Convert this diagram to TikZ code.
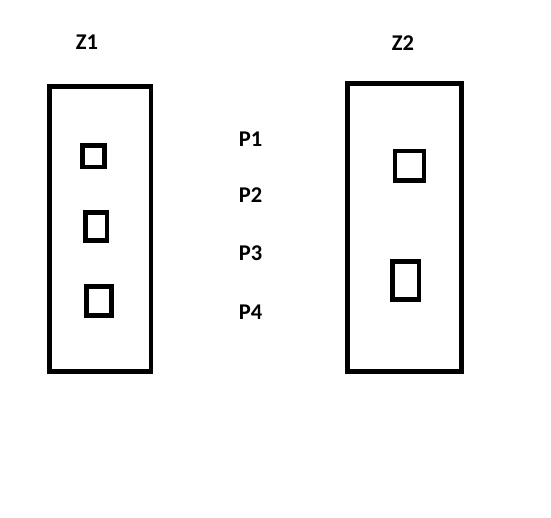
\documentclass[tikz,border=0pt]{standalone}
\usepackage{fontspec}
\setmainfont{Carlito}
\begin{document}
\begin{tikzpicture}[x=1pt,y=-1pt,
  zone/.style={draw=black,line width=4.8pt},
  pin/.style={draw=black,line width=4.4pt},
  lbl/.style={font=\fontsize{22.5}{26}\selectfont\bfseries,inner sep=0pt,text=black}]
\useasboundingbox[fill=white] (0,0) rectangle (551,517);
% left zone
\draw[zone] (49.2,86.7) rectangle (151,371.6);
\draw[pin] (82.3,145.6) rectangle (104.3,167);
\draw[pin] (85.3,212.3) rectangle (106.7,240.4);
\draw[pin] (86.3,286.3) rectangle (111.4,315.4);
% right zone
\draw[zone] (347.4,83.4) rectangle (461.6,371.6);
\draw[pin] (395,151) rectangle (423.7,180.4);
\draw[pin] (392.3,261.3) rectangle (418.7,299.4);
% labels
\node[lbl] (z1) at (87,42) {Z1};
\node[lbl] (z2) at (403,43) {Z2};
\node[lbl] (p1) at (250.5,139) {P1};
\node[lbl] (p2) at (250.5,195) {P2};
\node[lbl] (p3) at (250.5,253) {P3};
\node[lbl] (p4) at (250.5,312) {P4};
\end{tikzpicture}
\end{document}
